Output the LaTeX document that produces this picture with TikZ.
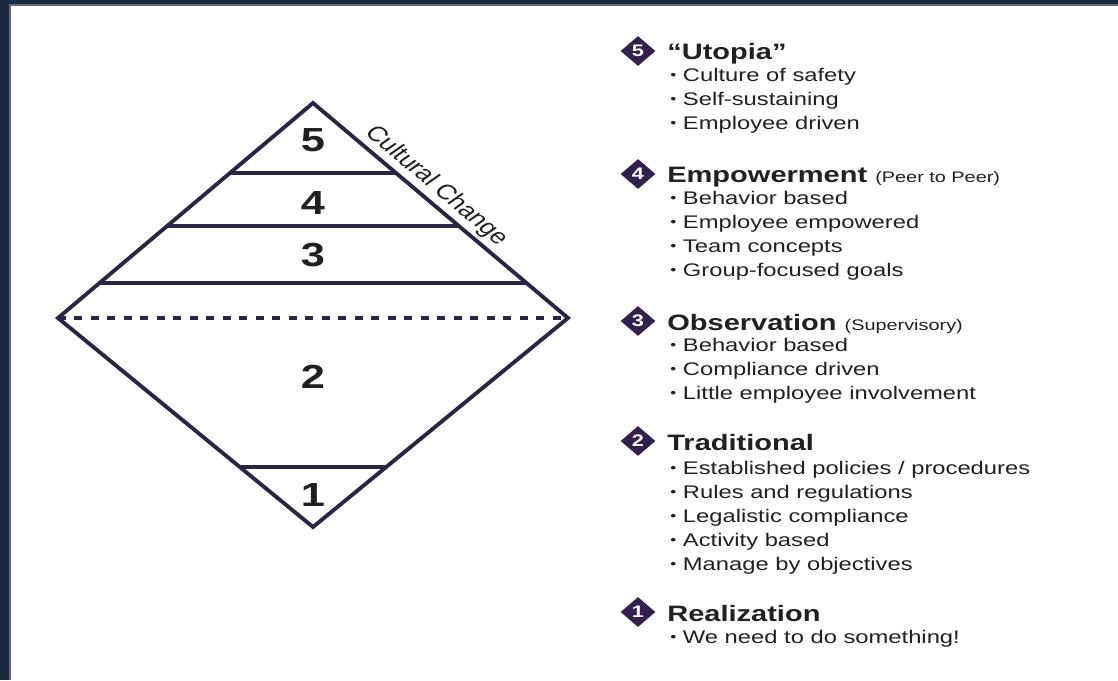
\documentclass[tikz,border=0pt]{standalone}
\usepackage{fontspec}
\setmainfont{Liberation Sans}[FakeStretch=1.3]
\newfontfamily\slantlabel{Liberation Sans}
\usetikzlibrary{shapes.geometric,calc}

\definecolor{linenavy}{RGB}{43,36,70}
\definecolor{badgeviolet}{RGB}{52,32,78}
\definecolor{inkgray}{RGB}{32,32,32}
\definecolor{spacebg}{RGB}{24,42,62}

\tikzstyle{tier}=[draw=linenavy, line width=2.2pt]
\tikzstyle{tiernum}=[text=inkgray, font=\bfseries\fontsize{19}{19}\selectfont]
\tikzstyle{badge}=[diamond, fill=badgeviolet, minimum width=0.7cm, minimum height=0.6cm, inner sep=0pt, text=white, font=\bfseries\fontsize{9.5}{9.5}\selectfont]
\tikzstyle{heading}=[anchor=base west, inner sep=0pt, text=inkgray, font=\bfseries\fontsize{12.7}{14}\selectfont]
\tikzstyle{bullet}=[anchor=base west, inner sep=0pt, text=inkgray, font=\fontsize{10.4}{12}\selectfont]
\newcommand{\aside}[1]{{\mdseries\fontsize{8.7}{10}\selectfont #1}}
\newcommand{\dotmark}{\raisebox{0.8pt}{\fontsize{7.5}{7.5}\selectfont •}\ }

\begin{document}
\begin{tikzpicture}[x=0.02cm, y=-0.02cm]
	\useasboundingbox (0,0) rectangle (1118,680);
	\fill[spacebg] (0,0) rectangle (1118,680);
	\fill[white] (10,5) rectangle (1118,680);
	\draw[linenavy!70, line width=1pt] (10,680) -- (10,5) -- (1118,5);

	% the big diamond
	\begin{scope}
		\coordinate (top) at (313,103);
		\coordinate (left) at (58,318);
		\coordinate (right) at (568,318);
		\coordinate (bottom) at (313,527);
		\draw[tier] (top) -- (right) -- (bottom) -- (left) -- cycle;
		\draw[tier] ($(top)!0.326!(left)$) -- ($(top)!0.326!(right)$);
		\draw[tier] ($(top)!0.572!(left)$) -- ($(top)!0.572!(right)$);
		\draw[tier] ($(top)!0.837!(left)$) -- ($(top)!0.837!(right)$);
		\draw[tier] ($(bottom)!0.287!(left)$) -- ($(bottom)!0.287!(right)$);
		\draw[tier, line width=1.8pt, dash pattern=on 0.16cm off 0.17cm] (left) -- (right);
	\end{scope}
	\begin{scope}
		\node[tiernum] (t5) at (313,140) {5};
		\node[tiernum] (t4) at (313,203) {4};
		\node[tiernum] (t3) at (313,255) {3};
		\node[tiernum] (t2) at (313,377) {2};
		\node[tiernum] (t1) at (313,495) {1};
		\node[text=inkgray, font=\slantlabel\fontsize{12}{12}\selectfont, xscale=1.3, rotate=-47.5] (change) at (436,186) {Cultural Change};
	\end{scope}

	% legend on the right
	\begin{scope}
		\node[badge] (b5) at (638,51) {5};
		\node[heading] (h5) at (667,59) {“Utopia”};
		\foreach \txt [count=\i] in {Culture of safety, Self-sustaining, Employee driven}
			\node[bullet] (u\i) at (670,57+24*\i) {\dotmark\txt};

		\node[badge] (b4) at (638,174) {4};
		\node[heading] (h4) at (667,182) {Empowerment \aside{(Peer to Peer)}};
		\foreach \txt [count=\i] in {Behavior based, Employee empowered, Team concepts, Group-focused goals}
			\node[bullet] (e\i) at (670,180+24*\i) {\dotmark\txt};

		\node[badge] (b3) at (638,321) {3};
		\node[heading] (h3) at (667,330) {Observation \aside{(Supervisory)}};
		\foreach \txt [count=\i] in {Behavior based, Compliance driven, Little employee involvement}
			\node[bullet] (o\i) at (670,327+24*\i) {\dotmark\txt};

		\node[badge] (b2) at (638,441) {2};
		\node[heading] (h2) at (667,450) {Traditional};
		\foreach \txt [count=\i] in {Established policies / procedures, Rules and regulations, Legalistic compliance, Activity based, Manage by objectives}
			\node[bullet] (r\i) at (670,450+24*\i) {\dotmark\txt};

		\node[badge] (b1) at (638,612) {1};
		\node[heading] (h1) at (667,621) {Realization};
		\node[bullet] (w1) at (670,643) {\dotmark We need to do something!};
	\end{scope}
\end{tikzpicture}
\end{document}
